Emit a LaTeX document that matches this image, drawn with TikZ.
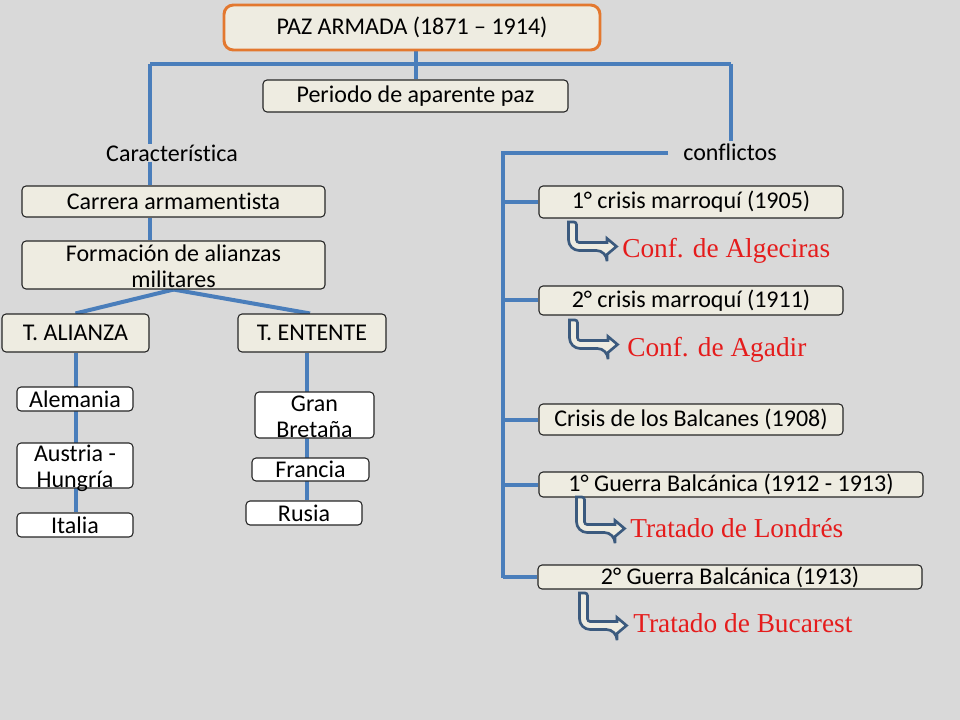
\documentclass[tikz,border=0pt]{standalone}
\usepackage{fontspec}
\setmainfont{Carlito}[Ligatures=NoCommon]
\newfontfamily\tnr{Liberation Serif}
\definecolor{bg}{HTML}{D9D9D9}
\definecolor{boxfill}{HTML}{EEECE1}
\definecolor{lineblue}{HTML}{4A7EBB}
\definecolor{orangeb}{HTML}{E3782F}
\definecolor{arrowout}{HTML}{3B5A7E}
\definecolor{redtext}{HTML}{E51C1C}
\newcommand\twol[2]{\smash{\raisebox{-7.5pt}{\begin{tabular}{@{}c@{}}#1\\#2\end{tabular}}}}
% #1 outer left x, #2 top y, #3 outer bottom y, #4 outer tip x
\newcommand\bentarr[4]{%
 \filldraw[fill=boxfill, draw=arrowout, line width=2pt, line join=miter]
  ({#1+1.5},#2) [rounded corners=8pt] -- ({#1+1.5},{#3-1.5}) -- ({#4-12},{#3-1.5}) [sharp corners] -- ({#4-12},{#3+2.5}) -- ({#4-2.5},{#3-5.5}) -- ({#4-12},{#3-13.5}) -- ({#4-12},{#3-9.5}) [rounded corners=2pt] -- ({#1+9.5},{#3-9.5}) -- ({#1+9.5},#2) [sharp corners] -- cycle;}
\pgfdeclarelayer{lines}
\pgfsetlayers{lines,main}
\begin{document}
\begin{tikzpicture}[x=0.75pt,y=-0.75pt,
  txt/.style={font=\fontsize{18}{19.5}\selectfont, inner sep=0pt},
  box/.style={txt, draw=black!85, fill=boxfill, rounded corners=3pt, line width=0.8pt, align=center},
  wbox/.style={box, fill=white},
  conn/.style={draw=lineblue, line width=3pt},
  red/.style={font=\tnr\fontsize{20.5}{22}\selectfont, text=redtext, inner sep=0pt, anchor=base west}]
\begin{pgfonlayer}{lines}
\fill[bg] (0,0) rectangle (960,720);
\end{pgfonlayer}
\useasboundingbox (0,0) rectangle (960,720);

% top
\node[box, draw=orangeb, line width=2.2pt, rounded corners=7pt, minimum width=376*0.75pt, minimum height=45*0.75pt] (paz) at (412,27.5) {PAZ ARMADA (1871 -- 1914)};
\node[box, minimum width=305*0.75pt, minimum height=32*0.75pt] (per) at (415.5,96) {Periodo de aparente paz};
\coordinate (hl) at (150,64);
\coordinate (hr) at (731,64);
\coordinate (hm) at (416,64);

% left
\node[txt] (car) at (172,153) {Característica};
\node[box, minimum width=303*0.75pt, minimum height=31*0.75pt] (carr) at (173.5,201.5) {Carrera armamentista};
\node[box, minimum width=303*0.75pt, minimum height=48*0.75pt] (form) at (173.5,265) {\twol{Formación de alianzas}{militares}};
\node[box, minimum width=147*0.75pt, minimum height=38*0.75pt] (ali) at (75.5,333) {T. ALIANZA};
\node[box, minimum width=148*0.75pt, minimum height=38*0.75pt] (ent) at (312,333) {T. ENTENTE};
\node[wbox, minimum width=116*0.75pt, minimum height=24*0.75pt] (ale) at (75,399) {Alemania};
\node[wbox, minimum width=116*0.75pt, minimum height=45*0.75pt] (aus) at (75,465.5) {\twol{Austria -}{Hungría}};
\node[wbox, minimum width=116*0.75pt, minimum height=24*0.75pt] (ita) at (75,525) {Italia};
\node[wbox, minimum width=119*0.75pt, minimum height=46*0.75pt] (gb) at (314.5,415) {\twol{Gran}{Bretaña}};
\node[wbox, minimum width=117*0.75pt, minimum height=23*0.75pt] (fra) at (310.5,469.5) {Francia};
\node[wbox, minimum width=116*0.75pt, minimum height=24*0.75pt] (rus) at (304,513) {Rusia};

% right
\node[txt] (con) at (730,152) {conflictos};
\node[box, minimum width=304*0.75pt, minimum height=32*0.75pt] (c1) at (691,202) {1° crisis marroquí (1905)};
\node[box, minimum width=304*0.75pt, minimum height=29*0.75pt] (c2) at (691,300.5) {2° crisis marroquí (1911)};
\node[box, minimum width=304*0.75pt, minimum height=31*0.75pt] (c3) at (691,419.5) {Crisis de los Balcanes (1908)};
\node[box, minimum width=384*0.75pt, minimum height=25*0.75pt] (c4) at (731,484.5) {1° Guerra Balcánica (1912 - 1913)};
\node[box, minimum width=384*0.75pt, minimum height=24*0.75pt] (c5) at (730,577) {2° Guerra Balcánica (1913)};
\coordinate (vt) at (503,153);
\coordinate (vb) at (503,578);
\coordinate (ct) at (668,153);

% red results
\bentarr{567}{222}{252}{619}
\node[red] (r1) at (622,258) {Conf. de Algeciras};
\bentarr{568}{320}{350}{620}
\node[red] (r2) at (627,356) {Conf. de Agadir};
\bentarr{575}{497}{534}{627}
\node[red] (r3) at (630,537) {Tratado de Londrés};
\bentarr{578}{593}{631}{629}
\node[red] (r4) at (633,632) {Tratado de Bucarest};

\begin{pgfonlayer}{lines}
\draw[conn] (paz.south -| hm) -- (per.north -| hm);
\draw[conn] (hl) -- (hr);
\draw[conn] (hl) -- (hl |- car.north);
\draw[conn] (hr) -- ([yshift=2pt]hr |- con.north);
\draw[conn] (hl |- car.south) -- (hl |- carr.north);
\draw[conn] (hl |- carr.south) -- (hl |- form.north);
\draw[conn] (form.south) -- (ali.north);
\draw[conn] (form.south) -- ([xshift=-1.5pt]ent.north);
\draw[conn] (ali.south) -- (ali.south |- ita.north);
\draw[conn] ([xshift=-3.5pt]ent.south) -- ([xshift=-3.5pt]ent.south |- rus.north);
\draw[conn] (ct) -- (vt) -- (vb);
\draw[conn] (vt |- c1.west) -- (c1.west);
\draw[conn] (vt |- c2.west) -- (c2.west);
\draw[conn] (vt |- c3.west) -- (c3.west);
\draw[conn] (vt |- c4.west) -- (c4.west);
\draw[conn] (vt |- c5.west) -- (c5.west);
\end{pgfonlayer}
\end{tikzpicture}
\end{document}
